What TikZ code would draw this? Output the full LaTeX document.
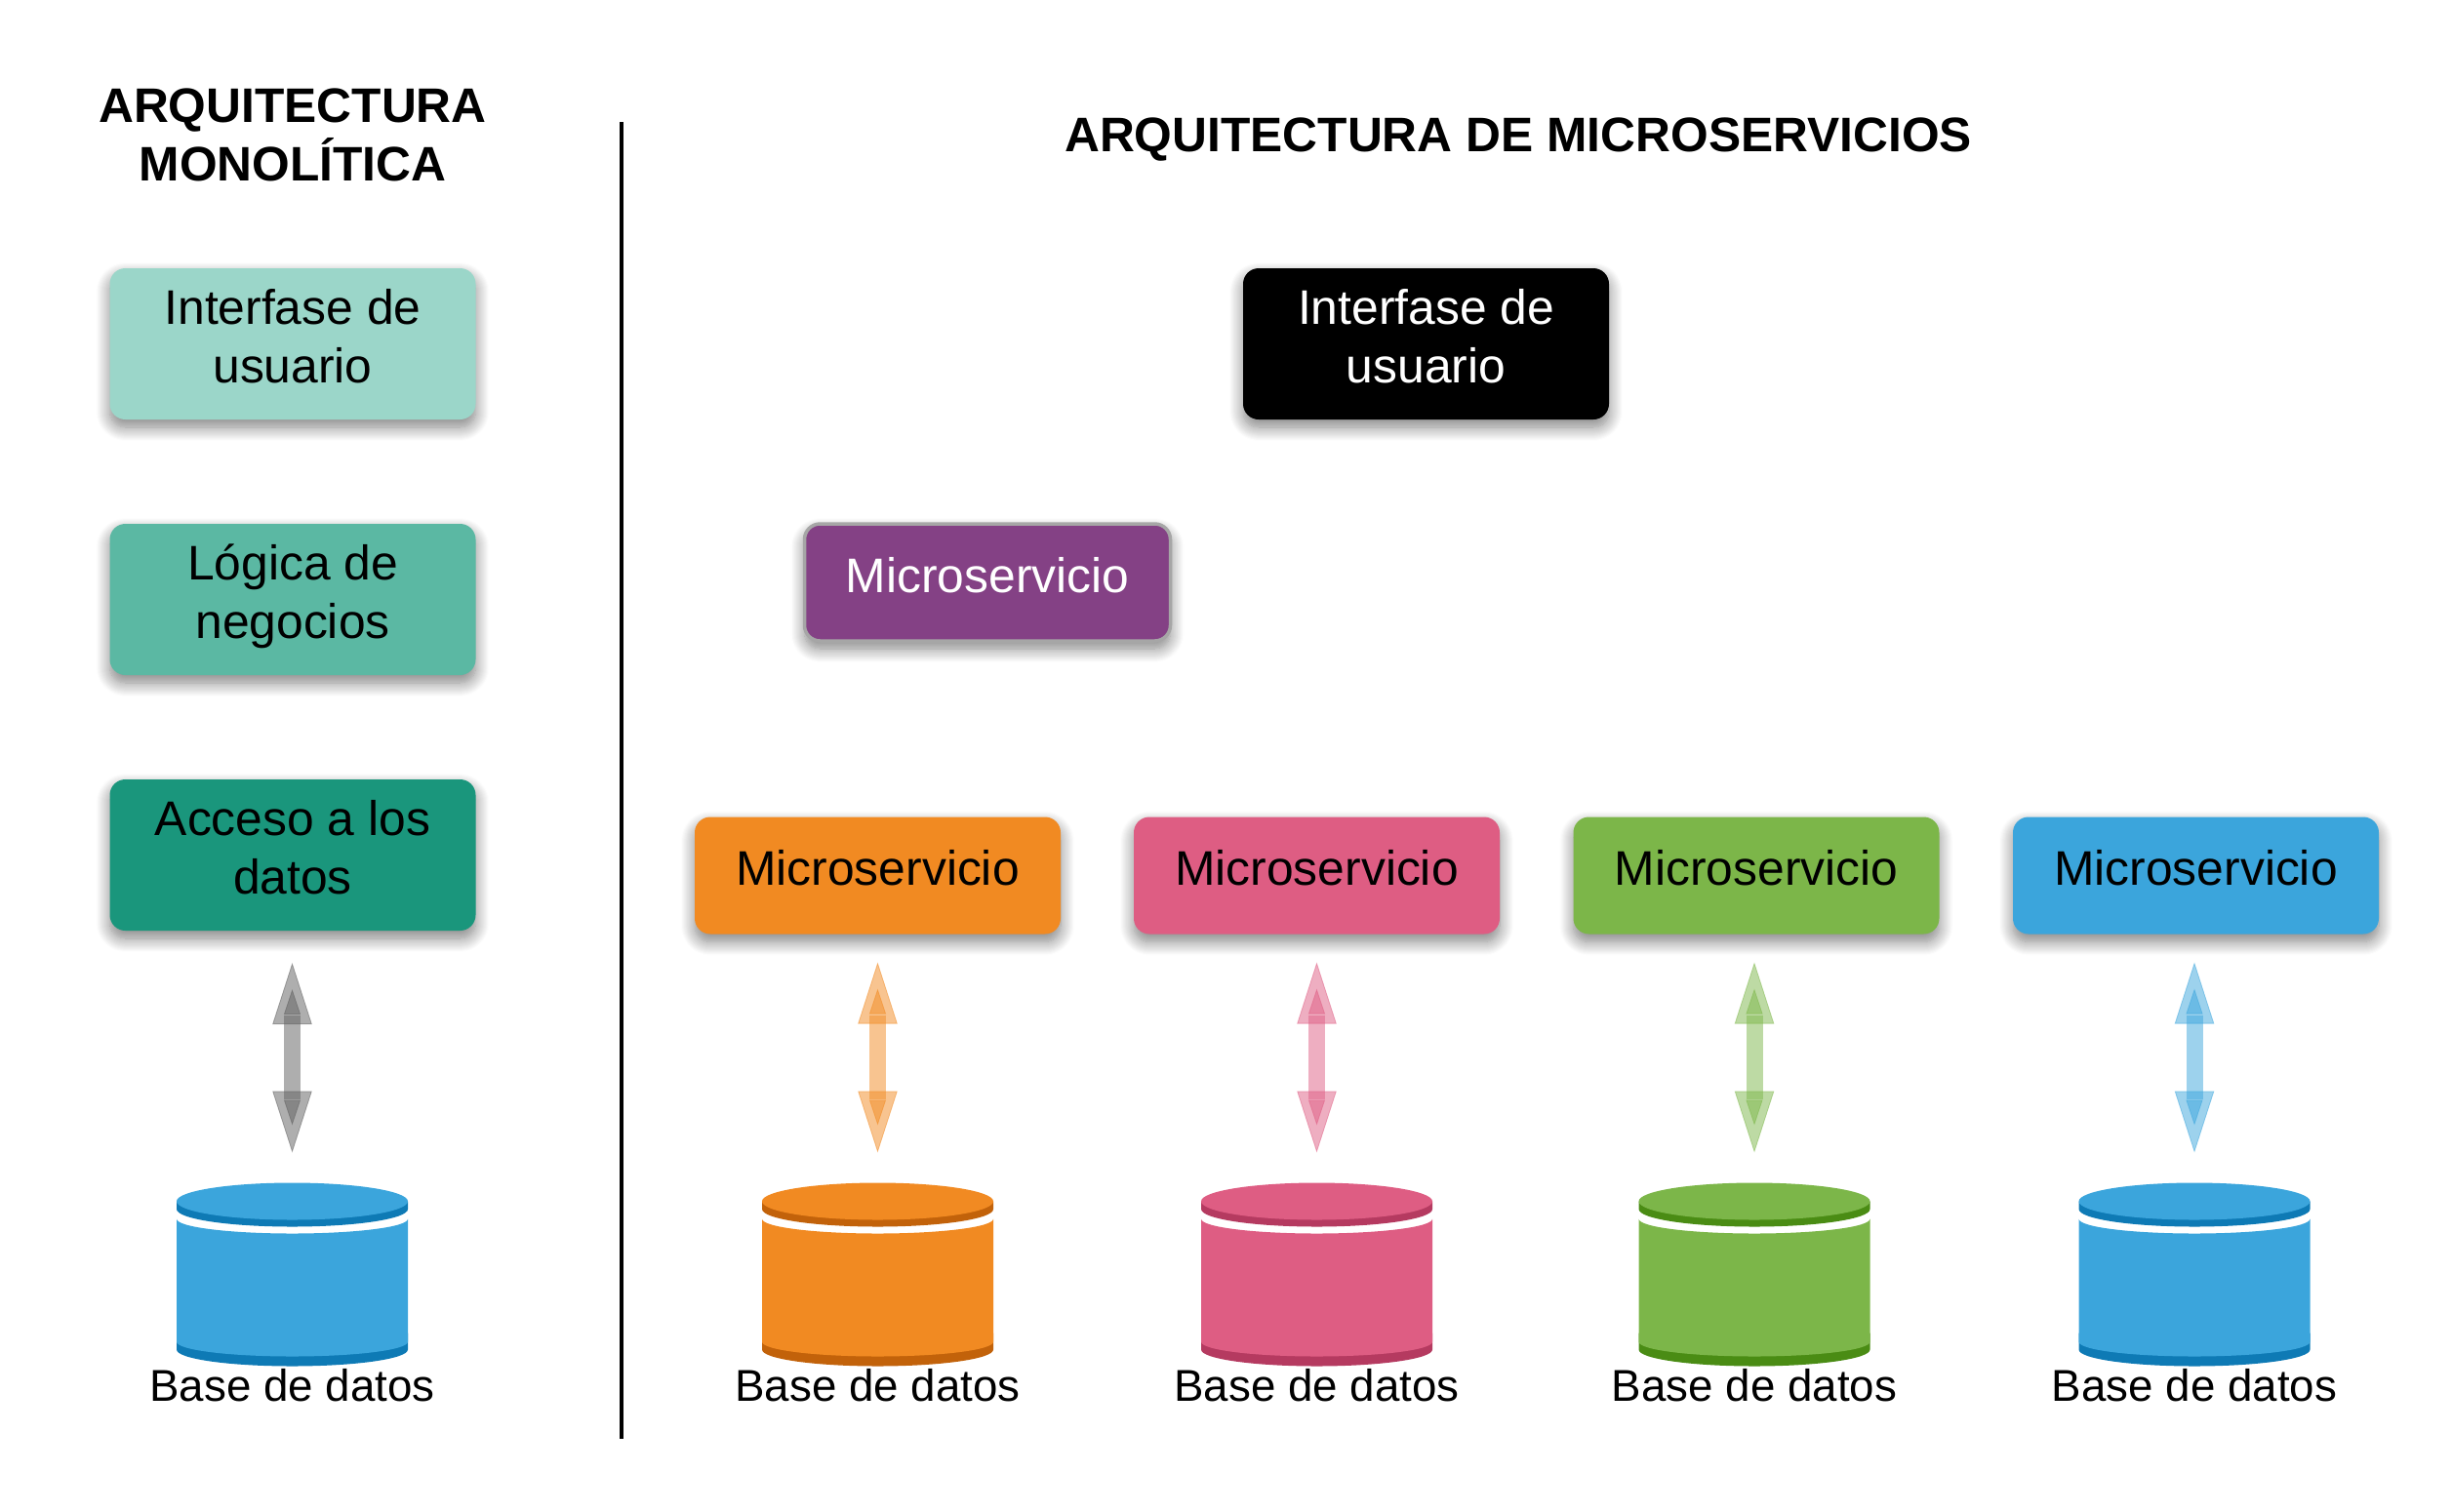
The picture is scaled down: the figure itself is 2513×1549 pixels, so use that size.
\documentclass[tikz,border=0pt]{standalone}
\usepackage{fontspec}
\setmainfont{Liberation Sans}
\usepackage{xcolor}
\usetikzlibrary{arrows.meta, shadows.blur}

\definecolor{monoa}{HTML}{9BD6C9}
\definecolor{monob}{HTML}{5BB8A3}
\definecolor{monoc}{HTML}{1A967C}
\definecolor{purplems}{HTML}{844185}
\definecolor{orangems}{HTML}{F18A22}
\definecolor{orangedk}{HTML}{C2620A}
\definecolor{pinkms}{HTML}{DE5D83}
\definecolor{pinkdk}{HTML}{B53A60}
\definecolor{greenms}{HTML}{7CB649}
\definecolor{greendk}{HTML}{4A8C14}
\definecolor{bluems}{HTML}{3BA5DC}
\definecolor{bluedk}{HTML}{0E7AB5}
\definecolor{grayarrow}{HTML}{5E5E5E}

\tikzset{
  boxbase/.style={
    rounded corners=8pt,
    align=center,
    inner sep=0pt,
    outer sep=0pt,
    font=\fontsize{24.9}{30}\selectfont,
    execute at begin node=\rule{0pt}{18pt},
    execute at end node=\rule[-8pt]{0pt}{8pt},
    blur shadow={shadow xshift=0pt, shadow yshift=-4pt, shadow blur radius=7pt, shadow blur steps=14, shadow opacity=50},
  },
  tallbox/.style={boxbase, minimum width=187.5pt, minimum height=77.5pt},
  microbox/.style={boxbase, minimum width=187.5pt, minimum height=60pt,
    execute at end node=\rule[-7pt]{0pt}{7pt}},
  titletext/.style={align=center, inner sep=0pt, font=\fontsize{24.85}{30}\selectfont\bfseries},
  dblabel/.style={anchor=base, inner sep=0pt, font=\fontsize{22.85}{27}\selectfont},
  dbbox/.style={minimum width=118.5pt, minimum height=94pt, inner sep=0pt, outer sep=0pt},
}

% cylinder: name, x, colour, dark colour
\newcommand{\dbcyl}[4]{%
  \node[dbbox] (#1) at (#2,1306.5) {};
  \begin{scope}[shift={(#1.center)}]
    \fill[#4] (-118.5,60) -- (-118.5,77) arc[start angle=180, end angle=360, x radius=59.25pt, y radius=8.5pt] -- (118.5,60) -- cycle;
    \fill[#3] (-118.5,-57) arc[start angle=180, end angle=360, x radius=59.25pt, y radius=7.5pt]
      -- (118.5,69) arc[start angle=0, end angle=-180, x radius=59.25pt, y radius=7.5pt] -- cycle;
    \fill[#4] (-118.5,-75) -- (-118.5,-67) arc[start angle=180, end angle=360, x radius=59.25pt, y radius=9pt] -- (118.5,-75) -- cycle;
    \fill[#3] (0,-75) ellipse[x radius=59.25pt, y radius=9.5pt];
  \end{scope}
}

% double arrow: from, to, colour, gap at the box
\newcommand{\dblink}[4]{%
  \draw[#3, opacity=.5, line width=8.5pt, shorten <=#4pt+27pt, shorten >=43pt] (#2.north |- #1.south) -- (#2.north);
  \path[opacity=.5, tips, shorten <=#4pt, shorten >=15.5pt,
    {Triangle[length=31.5pt, width=20.2pt, color=#3]}-{Triangle[length=31.5pt, width=20.2pt, color=#3]}]
    (#2.north |- #1.south) -- (#2.north);
  \path[opacity=.5, tips, shorten <=#4pt+13.5pt, shorten >=29.5pt,
    {Triangle[length=13pt, width=8.5pt, color=#3]}-{Triangle[length=13pt, width=8.5pt, color=#3]}]
    (#2.north |- #1.south) -- (#2.north);
}

\begin{document}
\begin{tikzpicture}[x=.5pt, y=-.5pt]
  \useasboundingbox (0,0) rectangle (2513,1549);
% titles
  \node[titletext] (titlemono) at (300,138) {ARQUITECTURA\\MONOLÍTICA};
  \node[titletext] (titlemicro) at (1556,143) {ARQUITECTURA DE MICROSERVICIOS};
% divider
  \coordinate (divtop) at (637,125);
  \coordinate (divbot) at (637,1475);
  \draw[black, line width=1.8pt] (divtop) -- (divbot);
% monolith
  \node[tallbox, fill=monoa] (ui) at (300,352.5) {Interfase de\\usuario};
  \node[tallbox, fill=monob] (logic) at (300,614.5) {Lógica de\\negocios};
  \node[tallbox, fill=monoc] (access) at (300,876.5) {Acceso a los\\datos};
  \dbcyl{dbmono}{299.5}{bluems}{bluedk}
  \dblink{access}{dbmono}{grayarrow}{16.5}
  \node[dblabel] (lblmono) at ([yshift=-18pt]dbmono.south) {Base de datos};
% microservices
  \node[tallbox, fill=black, text=white] (uims) at (1461.5,352.5) {Interfase de\\usuario};
  \node[microbox, fill=purplems, text=white, draw=black!35, line width=1.75pt] (mspurple) at (1012,597) {Microservicio};
  \node[microbox, fill=orangems] (msa) at (899.5,897.5) {Microservicio};
  \node[microbox, fill=pinkms] (msb) at (1349.5,897.5) {Microservicio};
  \node[microbox, fill=greenms] (msc) at (1800,897.5) {Microservicio};
  \node[microbox, fill=bluems] (msd) at (2250.5,897.5) {Microservicio};
  \dbcyl{dba}{899.5}{orangems}{orangedk}
  \dbcyl{dbb}{1349.5}{pinkms}{pinkdk}
  \dbcyl{dbc}{1798}{greenms}{greendk}
  \dbcyl{dbd}{2249}{bluems}{bluedk}
  \dblink{msa}{dba}{orangems}{14.5}
  \dblink{msb}{dbb}{pinkms}{14.5}
  \dblink{msc}{dbc}{greenms}{14.5}
  \dblink{msd}{dbd}{bluems}{14.5}
  \node[dblabel] (lbla) at ([yshift=-18pt]dba.south) {Base de datos};
  \node[dblabel] (lblb) at ([yshift=-18pt]dbb.south) {Base de datos};
  \node[dblabel] (lblc) at ([yshift=-18pt]dbc.south) {Base de datos};
  \node[dblabel] (lbld) at ([yshift=-18pt]dbd.south) {Base de datos};
\end{tikzpicture}
\end{document}
